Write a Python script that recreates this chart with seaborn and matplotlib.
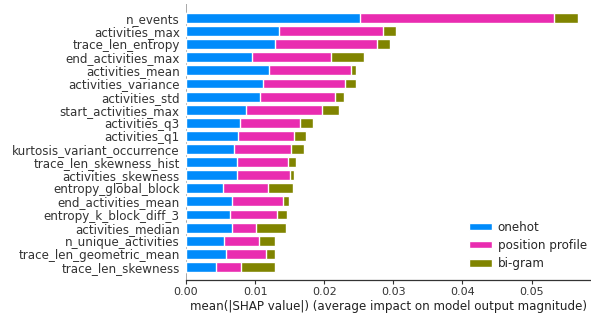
import pandas as pd
import numpy as np
import matplotlib
matplotlib.use("Agg")
import matplotlib.pyplot as plt
import seaborn as sns

# feature names, top to bottom
features = ['n_events', 'activities_max', 'trace_len_entropy', 'end_activities_max',
            'activities_mean', 'activities_variance', 'activities_std',
            'start_activities_max', 'activities_q3', 'activities_q1',
            'kurtosis_variant_occurrence', 'trace_len_skewness_hist',
            'activities_skewness', 'entropy_global_block', 'end_activities_mean',
            'entropy_k_block_diff_3', 'activities_median', 'n_unique_activities',
            'trace_len_geometric_mean', 'trace_len_skewness']

# mean |SHAP| per feature group
onehot = [0.0252, 0.0135, 0.0129, 0.0095, 0.0120, 0.0112, 0.0107, 0.0087, 0.0078, 0.0075,
          0.0069, 0.0074, 0.0074, 0.0054, 0.0067, 0.0063, 0.0067, 0.0055, 0.0058, 0.0043]
position_profile = [0.0280, 0.0150, 0.0148, 0.0115, 0.0119, 0.0118, 0.0109, 0.0110, 0.0087, 0.0081,
                    0.0083, 0.0074, 0.0076, 0.0064, 0.0074, 0.0069, 0.0034, 0.0051, 0.0058, 0.0037]
bigram = [0.0035, 0.0019, 0.0018, 0.0047, 0.0007, 0.0016, 0.0013, 0.0024, 0.0019, 0.0018,
          0.0019, 0.0011, 0.0006, 0.0037, 0.0008, 0.0014, 0.0044, 0.0023, 0.0013, 0.0049]

group_names = ['onehot', 'position profile', 'bi-gram']
colors = ['#008bfb', '#e92cb0', '#808400']

df = pd.DataFrame({'feature': features, 'onehot': onehot,
                   'position profile': position_profile, 'bi-gram': bigram})
# cumulative ends for stacking
df['c1'] = df['onehot']
df['c2'] = df['c1'] + df['position profile']
df['c3'] = df['c2'] + df['bi-gram']

sns.set_style("white")
plt.rcParams['font.family'] = ['DejaVu Sans']

fig = plt.figure(figsize=(5.91, 3.18), dpi=100)
ax = fig.add_axes([186 / 591, 1 - 280 / 318, (590 - 186) / 591, (280 - 4) / 318])

# draw totals first, then overlay the shorter stacks
for col, name, c in zip(['c3', 'c2', 'c1'], group_names[::-1], colors[::-1]):
    sns.barplot(data=df, x=col, y='feature', orient='h', color=c, width=0.76,
                saturation=1, label=name, ax=ax)

ax.set_xlim(0, 0.05845)
ax.set_ylim(len(features), -1.07)
ax.axvline(0, color='#999999', lw=1.2, zorder=-1)

for s in ['top', 'right', 'left']:
    ax.spines[s].set_visible(False)
ax.spines['bottom'].set_color('#333333')
ax.spines['bottom'].set_linewidth(0.9)

ax.set_ylabel('')
ax.set_xlabel('mean(|SHAP value|) (average impact on model output magnitude)',
              fontsize=8.6, color='#222222', labelpad=2)
ax.set_xticks([0, 0.01, 0.02, 0.03, 0.04, 0.05])
ax.set_xticklabels(['0.00', '0.01', '0.02', '0.03', '0.04', '0.05'])
ax.tick_params(axis='x', labelsize=8, colors='#333333', length=3, width=0.8, pad=2,
               bottom=True)
ax.tick_params(axis='y', labelsize=8.6, length=0, pad=4.5, labelcolor='#333333')

# legend in onehot / position profile / bi-gram order
h, l = ax.get_legend_handles_labels()
order = [l.index(n) for n in group_names]
ax.legend([h[i] for i in order], group_names, loc='lower right', frameon=False,
          fontsize=8.6, handlelength=1.95, handleheight=0.6, handletextpad=0.5,
          borderaxespad=0.3, bbox_to_anchor=(1.013, 0.005), labelspacing=0.45)

fig.savefig('out.png', dpi=100)
